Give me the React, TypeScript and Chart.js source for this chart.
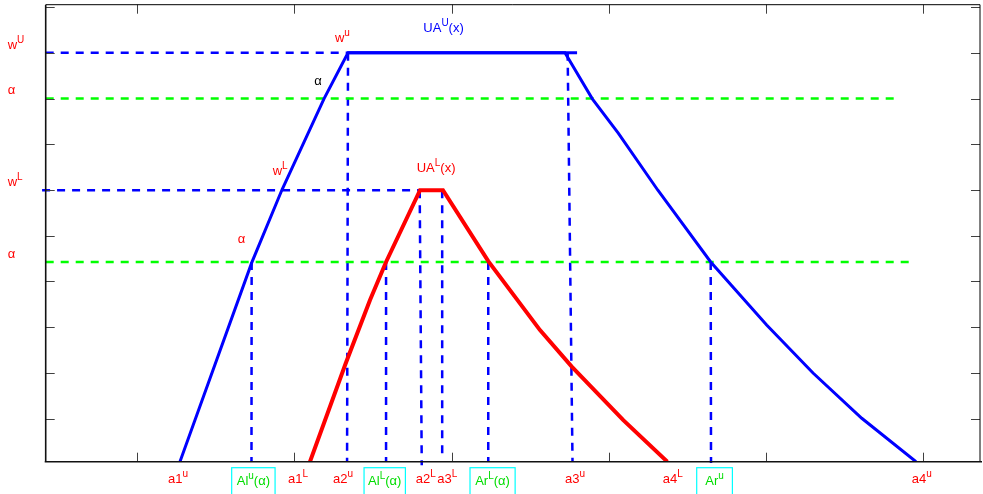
import { useEffect, useRef } from "react";
import { Chart, registerables } from "chart.js";

Chart.register(...registerables);

// ---- axis ----
const xMin = 0.418;
const xMax = 6.361;
const yMin = 0;
const yMax = 1;
const xTicks = [1, 2, 3, 4, 5, 6];
const yTicks = [0.0945, 0.1945, 0.2945, 0.3945, 0.4945, 0.5945, 0.6945, 0.7945, 0.8945, 0.9945];

// ---- levels ----
const wU = 0.895;
const alphaHigh = 0.795;
const wL = 0.594;
const alphaLow = 0.437;

// ---- UA^U(x) (blue) ----
const upperX = [1.272, 1.728, 1.921, 2.188, 2.341, 3.721, 3.895, 4.06, 4.312, 4.648, 5.004, 5.299, 5.609, 5.954];
const upperY = [0, 0.435, 0.595, 0.794, 0.895, 0.895, 0.794, 0.719, 0.594, 0.437, 0.299, 0.194, 0.095, 0];
const upperTopX = [2.341, 3.798];
const upperTopY = [0.895, 0.895];

// ---- UA^L(x) (red) ----
const lowerX = [2.099, 2.326, 2.481, 2.583, 2.799, 2.945, 3.233, 3.562, 3.764, 4.092, 4.372];
const lowerY = [0, 0.215, 0.354, 0.437, 0.594, 0.594, 0.439, 0.288, 0.208, 0.091, 0];

// ---- guide lines ----
const blueHLevels = [wU, wL];
const blueHStart = [xMin, 0.395];
const blueHEnd = [2.341, 2.799];
const greenHLevels = [alphaHigh, alphaLow];
const greenHEnd = [5.842, 5.931];
const vTopX = [2.341, 1.728, 2.583, 2.797, 2.94, 3.233, 3.738, 4.648];
const vBottomX = [2.335, 1.727, 2.583, 2.81, 2.94, 3.233, 3.769, 4.65];
const vTopY = [wU, alphaLow, alphaLow, wL, wL, alphaLow, wU, alphaLow];
const vBottomY = [0, 0, 0, -0.008, 0.003, 0, 0, -0.003];

// ---- text ----
type Part = { t: string; sup?: boolean };
const bottomLabels: Part[][] = [
  [{ t: "a1" }, { t: "u", sup: true }],
  [{ t: "a1" }, { t: "L", sup: true }],
  [{ t: "a2" }, { t: "u", sup: true }],
  [{ t: "a2" }, { t: "L", sup: true }],
  [{ t: "a3" }, { t: "L", sup: true }],
  [{ t: "a3" }, { t: "u", sup: true }],
  [{ t: "a4" }, { t: "L", sup: true }],
  [{ t: "a4" }, { t: "u", sup: true }],
];
const bottomLabelX = [1.196, 1.959, 2.246, 2.772, 2.909, 3.721, 4.343, 5.927];

const boxLabels: Part[][] = [
  [{ t: "Al" }, { t: "u", sup: true }, { t: "(α)" }],
  [{ t: "Al" }, { t: "L", sup: true }, { t: "(α)" }],
  [{ t: "Ar" }, { t: "L", sup: true }, { t: "(α)" }],
  [{ t: "Ar" }, { t: "u", sup: true }],
];
const boxLeft = [1.601, 2.443, 3.117, 4.559];
const boxRight = [1.877, 2.706, 3.404, 4.786];

const leftLabels: Part[][] = [
  [{ t: "w" }, { t: "U", sup: true }],
  [{ t: "α" }],
  [{ t: "w" }, { t: "L", sup: true }],
  [{ t: "α" }],
];
const leftLabelLevels = [wU, alphaHigh, wL, alphaLow];

const innerLabels: Part[][] = [
  [{ t: "w" }, { t: "u", sup: true }],
  [{ t: "UA" }, { t: "U", sup: true }, { t: "(x)" }],
  [{ t: "α" }],
  [{ t: "UA" }, { t: "L", sup: true }, { t: "(x)" }],
  [{ t: "w" }, { t: "L", sup: true }],
  [{ t: "α" }],
];
const innerLabelX = [2.258, 2.82, 2.127, 2.778, 1.862, 1.639];
const innerLabelY = [0.919, 0.941, 0.824, 0.633, 0.627, 0.478];
const innerLabelColor = ["#ff0000", "#0000ff", "#000000", "#ff0000", "#ff0000", "#ff0000"];

const FONT = '"Liberation Sans", Arial, Helvetica, sans-serif';
const BASE = 13;
const SUP = 10;

function measure(ctx: CanvasRenderingContext2D, parts: Part[]) {
  let w = 0;
  for (const p of parts) {
    ctx.font = `${p.sup ? SUP : BASE}px ${FONT}`;
    w += ctx.measureText(p.t).width;
  }
  return w;
}

function drawParts(ctx: CanvasRenderingContext2D, parts: Part[], x: number, y: number, color: string) {
  ctx.save();
  ctx.fillStyle = color;
  ctx.textBaseline = "alphabetic";
  ctx.textAlign = "left";
  let cx = x;
  for (const p of parts) {
    ctx.font = `${p.sup ? SUP : BASE}px ${FONT}`;
    ctx.fillText(p.t, cx, p.sup ? y - 6 : y);
    cx += ctx.measureText(p.t).width;
  }
  ctx.restore();
}

const decorPlugin = {
  id: "decor",
  afterDatasetsDraw(chart: any) {
    const ctx: CanvasRenderingContext2D = chart.ctx;
    const { left, right, top, bottom } = chart.chartArea;
    const xs = chart.scales.x;
    const ys = chart.scales.y;
    ctx.save();
    // ticks
    ctx.strokeStyle = "#404040";
    ctx.lineWidth = 1;
    const tl = 9;
    for (const t of xTicks) {
      const px = Math.round(xs.getPixelForValue(t)) + 0.5;
      ctx.beginPath();
      ctx.moveTo(px, bottom);
      ctx.lineTo(px, bottom - tl);
      ctx.moveTo(px, top);
      ctx.lineTo(px, top + tl);
      ctx.stroke();
    }
    for (const t of yTicks) {
      const py = Math.round(ys.getPixelForValue(t)) + 0.5;
      ctx.beginPath();
      ctx.moveTo(left, py);
      ctx.lineTo(left + tl, py);
      ctx.moveTo(right, py);
      ctx.lineTo(right - tl, py);
      ctx.stroke();
    }
    // frame
    ctx.strokeStyle = "#000";
    ctx.lineWidth = 1;
    ctx.beginPath();
    ctx.moveTo(left, top);
    ctx.lineTo(right, top);
    ctx.moveTo(right, top);
    ctx.lineTo(right, bottom);
    ctx.stroke();
    ctx.lineWidth = 1.6;
    ctx.strokeStyle = "#111";
    ctx.beginPath();
    ctx.moveTo(left, top);
    ctx.lineTo(left, bottom);
    ctx.moveTo(left - 1, bottom);
    ctx.lineTo(right + 2, bottom);
    ctx.stroke();
    ctx.restore();

    // bottom labels
    bottomLabels.forEach((parts, i) => {
      drawParts(ctx, parts, xs.getPixelForValue(bottomLabelX[i]), bottom + 21.5, "#ff0000");
    });
    // boxes
    boxLabels.forEach((parts, i) => {
      const l = xs.getPixelForValue(boxLeft[i]);
      const r = xs.getPixelForValue(boxRight[i]);
      ctx.save();
      ctx.strokeStyle = "#00ffff";
      ctx.lineWidth = 1.2;
      ctx.strokeRect(l, bottom + 6, r - l, 30);
      ctx.restore();
      const w = measure(ctx, parts);
      drawParts(ctx, parts, (l + r) / 2 - w / 2, bottom + 23, "#00dd00");
    });
    // left labels
    leftLabels.forEach((parts, i) => {
      drawParts(ctx, parts, left - 38, ys.getPixelForValue(leftLabelLevels[i]) - 4, "#ff0000");
    });
    // inner labels
    innerLabels.forEach((parts, i) => {
      drawParts(ctx, parts, xs.getPixelForValue(innerLabelX[i]), ys.getPixelForValue(innerLabelY[i]), innerLabelColor[i]);
    });
  },
};

function pts(xa: number[], ya: number[]) {
  return xa.map((x, i) => ({ x, y: ya[i] }));
}

export default function App() {
  const ref = useRef<HTMLCanvasElement | null>(null);
  useEffect(() => {
    if (!ref.current) return;
    const line = (data: any[], color: string, width: number, dash: number[] | undefined, order: number, clip: any = undefined) => ({
      data,
      borderColor: color,
      backgroundColor: color,
      borderWidth: width,
      borderDash: dash || [],
      showLine: true,
      pointRadius: 0,
      pointHoverRadius: 0,
      tension: 0,
      fill: false,
      order,
      clip,
    });
    const datasets: any[] = [];
    datasets.push(line(pts(upperX, upperY), "#0000ff", 3, undefined, 1));
    datasets.push(line(pts(upperTopX, upperTopY), "#0000ff", 3, undefined, 1));
    datasets.push(line(pts(lowerX, lowerY), "#ff0000", 4, undefined, 0));
    blueHLevels.forEach((lv, i) => {
      datasets.push(line([{ x: blueHStart[i], y: lv }, { x: blueHEnd[i], y: lv }], "#0000ff", 2.5, [8, 7], 3, false));
    });
    greenHLevels.forEach((lv, i) => {
      datasets.push(line([{ x: xMin, y: lv }, { x: greenHEnd[i], y: lv }], "#00ff00", 2.5, [8, 7], 2, false));
    });
    vTopX.forEach((x, i) => {
      datasets.push(line([{ x, y: vTopY[i] }, { x: vBottomX[i], y: vBottomY[i] }], "#0000ff", 2.5, [8, 7], 3, false));
    });
    const chart = new Chart(ref.current, {
      type: "scatter",
      data: { datasets },
      options: {
        animation: false,
        responsive: false,
        devicePixelRatio: 1,
        layout: { padding: { left: 45.7, right: 3, top: 4.7, bottom: 32.3 } },
        plugins: { legend: { display: false }, tooltip: { enabled: false } },
        events: [],
        scales: {
          x: { type: "linear", min: xMin, max: xMax, display: false },
          y: { type: "linear", min: yMin, max: yMax, display: false },
        },
      },
      plugins: [decorPlugin],
    });
    return () => chart.destroy();
  }, []);
  return (
    <div style={{ position: "absolute", left: 0, top: 0, width: 983, height: 494, background: "#fff" }}>
      <canvas ref={ref} width={983} height={494} style={{ display: "block" }} />
    </div>
  );
}
